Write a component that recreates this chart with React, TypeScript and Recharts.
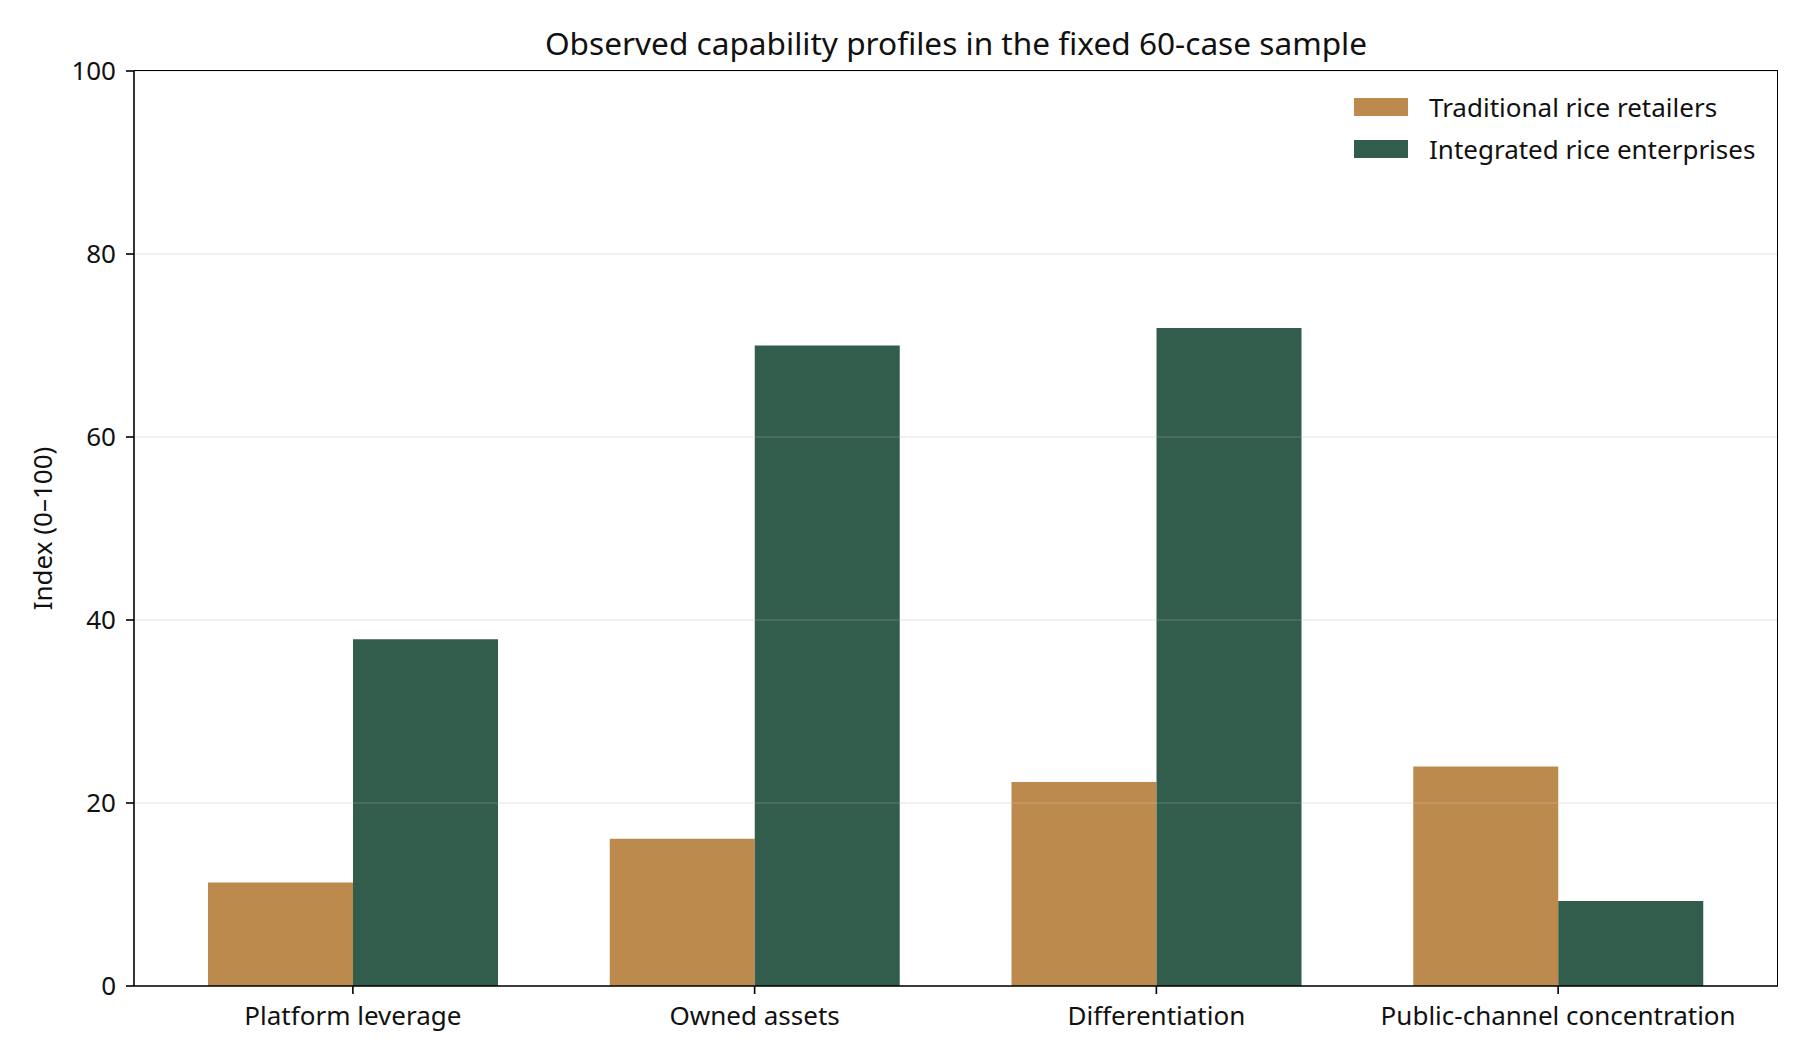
import React from 'react';
import { BarChart, Bar, XAxis, YAxis, CartesianGrid, Legend, ReferenceLine } from 'recharts';

const categories = ['Platform leverage', 'Owned assets', 'Differentiation', 'Public-channel concentration'];
const traditional = [11.3, 16.1, 22.3, 24.0];
const integrated = [37.9, 70.0, 71.9, 9.3];
const yTicks = [0, 20, 40, 60, 80, 100];
const gridValues = [20, 40, 60, 80];

const seriesNames = ['Traditional rice retailers', 'Integrated rice enterprises'];
const colors = ['#BD8A4E', '#325C4C'];

const data = categories.map((c, i) => ({ name: c, traditional: traditional[i], integrated: integrated[i] }));

const FONT = '"Noto Sans", "Open Sans", sans-serif';

const renderLegend = () => (
  <div style={{ fontFamily: FONT, fontSize: 26, color: '#111' }}>
    {seriesNames.map((n, i) => (
      <div key={n} style={{ display: 'flex', alignItems: 'center', height: 42 }}>
        <div style={{ width: 54, height: 18, background: colors[i], marginRight: 21 }} />
        <span>{n}</span>
      </div>
    ))}
  </div>
);

export default function App() {
  return (
    <div style={{ position: 'absolute', left: 0, top: 0, width: 1805, height: 1064, background: '#fff' }}>
      <div
        style={{
          position: 'absolute',
          left: 134,
          width: 1644,
          top: 25,
          textAlign: 'center',
          fontFamily: FONT,
          fontSize: 31.6,
          lineHeight: '36px',
          color: '#111',
        }}
      >
        Observed capability profiles in the fixed 60-case sample
      </div>
      <BarChart
        width={1805}
        height={1064}
        data={data}
        margin={{ top: 71, right: 27, bottom: 0, left: 0 }}
        barGap={0}
      >
        <CartesianGrid vertical={false} stroke="#ebebeb" strokeWidth={1.5} />
        <XAxis
          dataKey="name"
          height={78}
          padding={{ left: 18, right: 19 }}
          tickSize={8}
          tickMargin={13}
          axisLine={{ stroke: '#000', strokeWidth: 1.6 }}
          tickLine={{ stroke: '#000', strokeWidth: 1.6 }}
          tick={{ fill: '#111', fontSize: 26, fontFamily: FONT }}
          interval={0}
        />
        <YAxis
          width={134}
          domain={[0, 100]}
          ticks={yTicks}
          tickSize={8}
          tickMargin={10}
          axisLine={{ stroke: '#000', strokeWidth: 1.6 }}
          tickLine={{ stroke: '#000', strokeWidth: 1.6 }}
          tick={{ fill: '#111', fontSize: 26, fontFamily: FONT }}
          label={{
            value: 'Index (0–100)',
            angle: -90,
            position: 'insideLeft',
            offset: 43,
            style: { textAnchor: 'middle', fill: '#111', fontSize: 26, fontFamily: FONT },
          }}
        />
        <Legend
          layout="horizontal"
          verticalAlign="middle"
          align="center"
          content={renderLegend}
          wrapperStyle={{ top: 86, left: 1354, width: 440, height: 84 }}
        />
        <Bar dataKey="traditional" name={seriesNames[0]} fill={colors[0]} barSize={145} isAnimationActive={false} />
        <Bar dataKey="integrated" name={seriesNames[1]} fill={colors[1]} barSize={145} isAnimationActive={false} />
        {gridValues.map((v) => (
          <ReferenceLine key={v} y={v} stroke="#ffffff" strokeOpacity={0.15} strokeWidth={1.5} />
        ))}
      </BarChart>
      <div
        style={{
          position: 'absolute',
          left: 134,
          top: 70.2,
          width: 1644,
          height: 916,
          borderTop: '1.6px solid #000',
          borderRight: '1.6px solid #000',
          boxSizing: 'border-box',
          pointerEvents: 'none',
        }}
      />
    </div>
  );
}
